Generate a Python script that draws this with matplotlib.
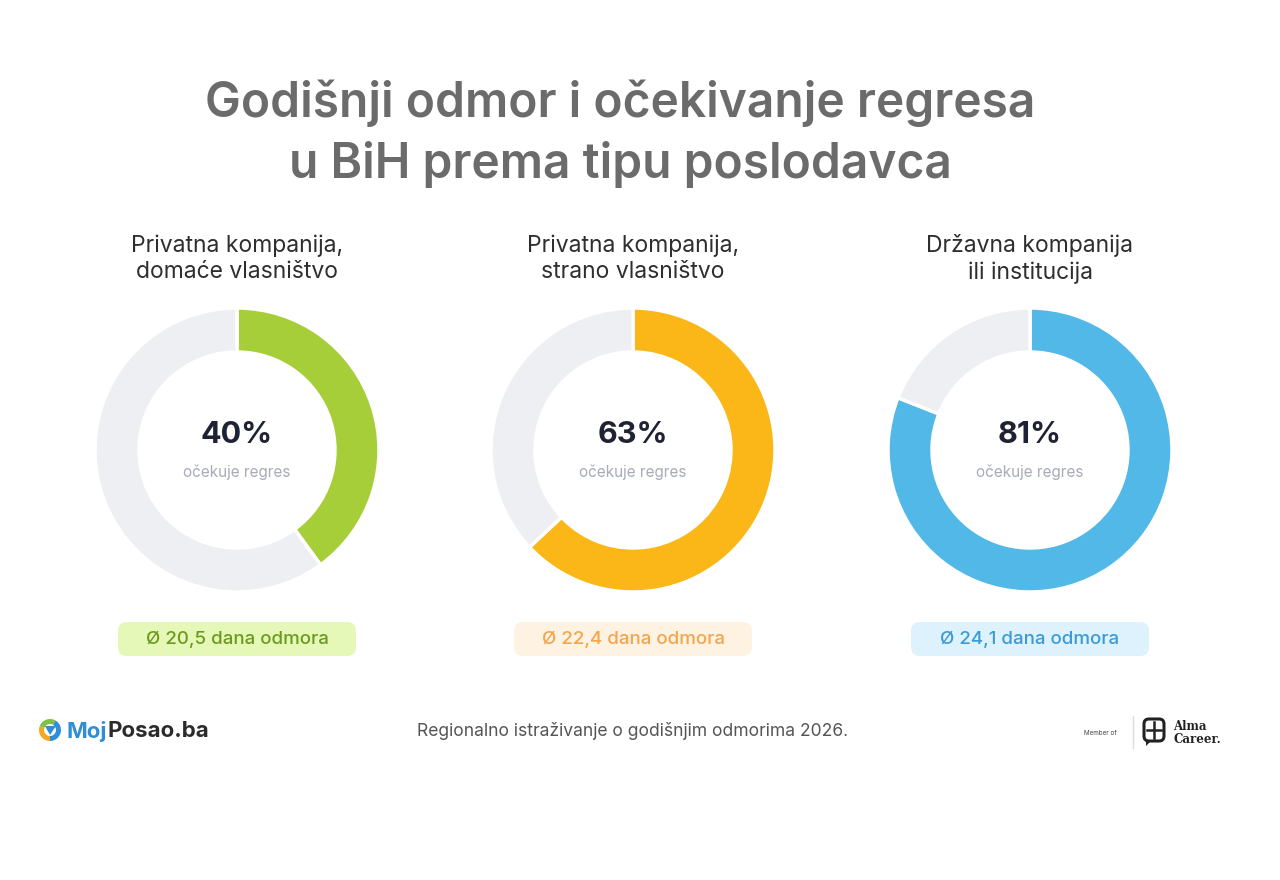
import matplotlib
matplotlib.use("Agg")
import matplotlib.pyplot as plt
from matplotlib.patches import FancyBboxPatch, Wedge, Polygon

plt.rcParams['font.family'] = ['Inter', 'DejaVu Sans']

title_lines = ["Godišnji odmor i očekivanje regresa", "u BiH prema tipu poslodavca"]
categories = ["Privatna kompanija,\ndomaće vlasništvo",
              "Privatna kompanija,\nstrano vlasništvo",
              "Državna kompanija\nili institucija"]
expect_pct = [40, 63, 81]
vacation_days = ["20,5", "22,4", "24,1"]
center_label = "očekuje regres"
footer_text = "Regionalno istraživanje o godišnjim odmorima 2026."

main_colors = ["#A6CE39", "#FBB617", "#52B8E8"]
badge_bg = ["#E6F8B8", "#FEF2E3", "#DDF2FC"]
badge_fg = ["#6C9A1E", "#F5A54C", "#3C9AD6"]
rest_color = "#EEEFF3"

W, H = 1280, 880
fig = plt.figure(figsize=(W / 100, H / 100), dpi=100)
fig.patch.set_facecolor("white")

bg = fig.add_axes([0, 0, 1, 1])
bg.set_xlim(0, W)
bg.set_ylim(H, 0)
bg.axis("off")

# Title
bg.text(620, 103, title_lines[0], ha="center", va="center", fontsize=34.5,
        fontweight="semibold", color="#6B6B6B")
bg.text(620, 165, title_lines[1], ha="center", va="center", fontsize=34.5,
        fontweight="semibold", color="#6B6B6B")

centers_x = [237, 633, 1030]
cy = 450
R = 142

for i, cx in enumerate(centers_x):
    # category label
    bg.text(cx, 259, categories[i], ha="center", va="center", fontsize=16.5,
            color="#2E2E2E", linespacing=1.25)
    # donut
    ax = fig.add_axes([(cx - R) / W, 1 - (cy + R) / H, 2 * R / W, 2 * R / H])
    ax.pie([expect_pct[i], 100 - expect_pct[i]],
           colors=[main_colors[i], rest_color],
           startangle=90, counterclock=False, radius=1,
           wedgeprops=dict(width=0.31, edgecolor="white", linewidth=2.5))
    ax.set_xlim(-1.0, 1.0)
    ax.set_ylim(-1.0, 1.0)
    ax.set_aspect("equal")
    ax.axis("off")
    # center texts
    bg.text(cx, 435, f"{expect_pct[i]}%", ha="center", va="center",
            fontsize=22, fontweight="bold", color="#1F2233")
    bg.text(cx, 472, center_label, ha="center", va="center",
            fontsize=11, color="#A8ABB8")
    # badge
    bw, bh = 238, 34
    badge = FancyBboxPatch((cx - bw / 2, 622), bw, bh,
                           boxstyle="round,pad=0,rounding_size=9",
                           facecolor=badge_bg[i], edgecolor="none")
    bg.add_patch(badge)
    bg.text(cx, 639, f"Ø {vacation_days[i]} dana odmora", ha="center",
            va="center", fontsize=13.5, color=badge_fg[i], fontweight="medium")

# Footer: MojPosao logo
bg.add_patch(Wedge((50, 730), 11, 90, 200, width=5, facecolor="#F5A623"))
bg.add_patch(Wedge((50, 730), 11, 200, 300, width=5, facecolor="#7DC242"))
bg.add_patch(Wedge((50, 730), 11, 300, 450, width=5, facecolor="#2E8FD6"))
bg.add_patch(Polygon([[45, 726], [56, 726], [50, 735]], closed=True,
                     facecolor="#2E8FD6"))
t1 = bg.text(67, 731, "Moj", ha="left", va="center", fontsize=16,
             fontweight="bold", color="#2E8FD6")
bg.annotate("Posao.ba", xy=(1, 0.5), xycoords=t1, ha="left", va="center",
            fontsize=16, fontweight="bold", color="#2B2B2B")

# Footer center text
bg.text(633, 731, footer_text, ha="center", va="center", fontsize=12.6,
        color="#555555")

# Footer right: Alma Career
bg.text(1100, 733, "Member of", ha="center", va="center", fontsize=4.5,
        color="#444444")
bg.plot([1133, 1133], [716, 748], color="#DDDDDD", lw=1)
icon = FancyBboxPatch((1144, 719), 20, 22, boxstyle="round,pad=0,rounding_size=5",
                      facecolor="none", edgecolor="#222222", lw=2.2)
bg.add_patch(icon)
bg.plot([1154, 1154], [722, 738], color="#222222", lw=1.8)
bg.plot([1147, 1161], [730, 730], color="#222222", lw=1.8)
bg.add_patch(Polygon([[1146, 740], [1152, 740], [1146, 746]], closed=True,
                     facecolor="#222222"))
bg.text(1173, 733, "Alma\nCareer.", ha="left", va="center", fontsize=8.5,
        family="DejaVu Serif", fontweight="bold", color="#222222",
        linespacing=0.95)

fig.savefig("out.png", dpi=100, facecolor="white")
